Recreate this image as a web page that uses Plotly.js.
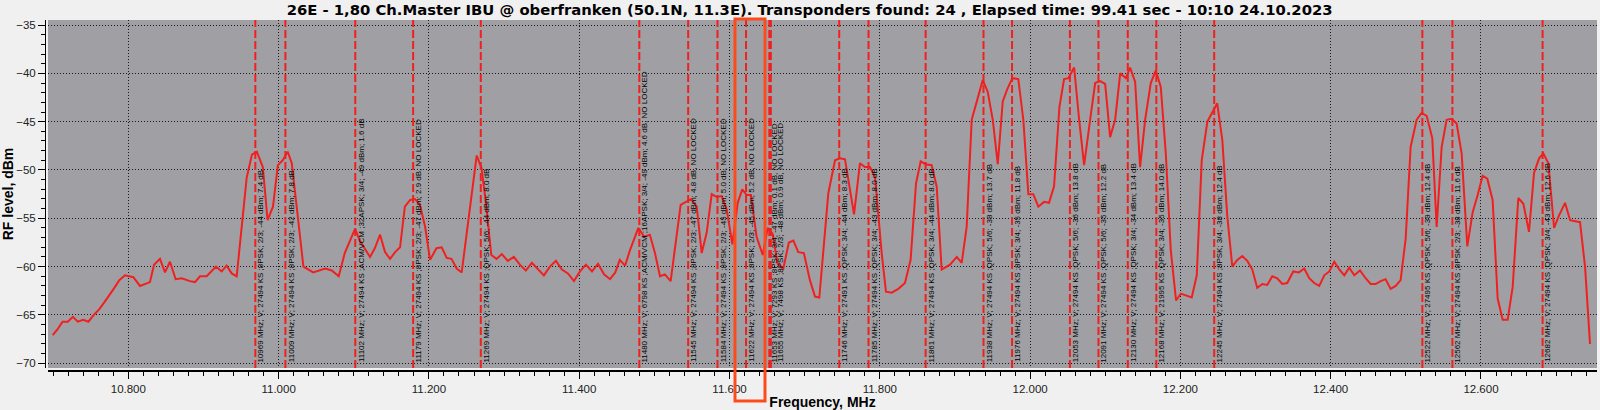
<!DOCTYPE html>
<html>
<head>
<meta charset="utf-8">
<script src="https://cdn.plot.ly/plotly-3.0.1.min.js"></script>
<style>
html,body{margin:0;padding:0;background:#f0f0f0;}
#chart{width:1600px;height:410px;}
</style>
</head>
<body>
<div id="chart"></div>
<script>
// Spectrum scan (MHz, dBm)
const freqMHz = [10699.4,10705.6,10712.5,10719.4,10726.2,10732.8,10740.0,10746.9,10754.0,10761.4,10768.0,10774.7,10781.4,10788.0,10795.6,10806.7,10815.5,10828.8,10834.2,10842.1,10848.8,10855.4,10863.0,10871.0,10882.0,10888.7,10895.4,10904.2,10916.7,10924.2,10930.8,10937.5,10944.2,10957.5,10964.5,10971.0,10979.0,10985.3,10992.5,10999.0,11005.5,11012.0,11017.5,11024.0,11033.0,11046.0,11062.0,11070.7,11080.0,11088.0,11096.0,11101.7,11108.0,11121.6,11128.0,11135.0,11141.6,11148.3,11155.0,11161.6,11168.0,11175.0,11181.5,11188.0,11195.0,11201.5,11210.0,11217.0,11223.7,11230.0,11237.0,11243.6,11263.6,11270.0,11276.0,11283.0,11290.0,11297.0,11305.0,11313.0,11321.0,11329.0,11337.0,11345.0,11353.0,11361.0,11369.0,11377.0,11385.0,11393.0,11401.0,11409.0,11417.0,11425.0,11433.0,11441.0,11448.0,11454.0,11461.0,11467.6,11478.7,11486.3,11494.0,11500.8,11507.5,11514.0,11521.7,11535.0,11543.0,11548.8,11556.4,11563.0,11569.6,11576.3,11583.0,11589.6,11596.3,11603.8,11610.9,11617.0,11622.9,11628.6,11636.0,11644.2,11650.8,11657.4,11664.0,11671.6,11679.0,11685.0,11691.5,11699.0,11707.0,11713.8,11719.5,11731.5,11740.4,11747.0,11753.7,11765.7,11773.6,11780.3,11786.9,11793.6,11802.5,11808.2,11815.8,11824.6,11833.5,11841.0,11848.2,11854.4,11861.0,11869.0,11875.7,11882.3,11893.4,11902.4,11909.0,11915.6,11922.3,11929.0,11937.0,11943.6,11950.3,11957.0,11963.6,11969.8,11976.4,11984.3,11991.0,11997.7,12004.3,12011.0,12018.6,12025.2,12031.9,12039.0,12045.2,12051.0,12058.6,12065.3,12071.9,12079.9,12086.6,12093.2,12099.9,12106.5,12113.2,12119.9,12127.4,12133.1,12139.8,12146.4,12153.1,12160.6,12167.3,12173.9,12180.6,12187.2,12194.2,12200.5,12207.1,12215.1,12221.8,12228.4,12235.9,12242.8,12249.0,12255.8,12262.4,12269.1,12275.7,12282.4,12289.0,12295.7,12302.3,12309.0,12315.6,12322.3,12328.9,12335.6,12342.2,12350.2,12357.8,12364.8,12371.5,12378.1,12384.8,12391.5,12398.1,12404.8,12411.4,12418.1,12424.7,12431.4,12439.0,12446.5,12453.2,12459.8,12466.5,12473.1,12479.8,12486.5,12493.1,12499.8,12506.4,12514.4,12521.0,12527.7,12535.2,12541.0,12547.7,12554.3,12561.0,12567.6,12574.3,12581.8,12588.9,12595.6,12602.2,12608.4,12615.5,12622.2,12628.9,12635.5,12642.2,12649.7,12656.4,12663.9,12670.6,12677.3,12683.0,12689.7,12697.3,12703.9,12711.9,12718.6,12725.2,12731.8,12738.5,12745.1];
const levelDbm = [-67.1,-66.5,-65.7,-65.7,-65.2,-65.7,-65.5,-65.7,-65.0,-64.4,-63.7,-63.0,-62.2,-61.4,-60.9,-61.1,-62.0,-61.6,-59.8,-59.2,-60.6,-59.5,-61.3,-61.2,-61.5,-61.6,-61.0,-61.0,-60.0,-60.5,-59.9,-60.7,-61.0,-50.8,-48.4,-48.1,-49.7,-55.2,-53.8,-49.5,-49.0,-48.1,-49.3,-53.8,-60.0,-60.6,-60.2,-60.4,-61.0,-58.6,-57.1,-56.1,-57.3,-59.0,-58.1,-56.7,-58.5,-59.2,-58.5,-58.0,-53.8,-53.1,-53.0,-53.6,-55.9,-59.3,-58.1,-58.0,-59.1,-59.2,-60.2,-60.6,-48.5,-49.8,-53.5,-58.8,-59.2,-58.7,-59.4,-59.0,-59.8,-60.4,-59.6,-60.2,-60.9,-60.0,-59.4,-60.3,-60.7,-61.5,-60.5,-59.8,-60.5,-59.7,-60.8,-61.3,-60.6,-59.3,-59.9,-58.3,-56.0,-56.9,-56.7,-58.6,-61.0,-60.8,-61.5,-53.6,-53.3,-53.0,-53.8,-58.6,-56.5,-52.5,-52.8,-52.7,-54.1,-57.7,-53.4,-52.0,-52.6,-52.6,-56.9,-58.8,-56.0,-56.6,-59.7,-60.2,-57.5,-57.3,-58.5,-58.6,-61.4,-63.1,-63.2,-52.4,-49.0,-48.8,-48.9,-54.6,-49.3,-49.7,-49.7,-50.7,-58.6,-62.6,-62.7,-62.3,-61.7,-59.3,-51.4,-49.1,-49.4,-49.5,-51.7,-60.3,-59.8,-59.0,-59.6,-55.9,-44.8,-42.9,-40.7,-41.9,-44.8,-49.4,-42.9,-41.6,-40.5,-40.6,-44.8,-52.5,-52.5,-53.8,-53.3,-53.4,-51.7,-43.5,-40.6,-40.5,-39.4,-44.8,-49.5,-44.8,-41.0,-40.8,-41.1,-46.6,-44.8,-40.0,-40.5,-39.4,-40.9,-49.7,-44.8,-41.0,-39.7,-41.4,-48.3,-58.3,-63.5,-62.8,-63.0,-63.2,-60.9,-49.0,-45.0,-44.0,-43.1,-46.9,-54.8,-60.0,-59.3,-58.9,-59.4,-60.3,-62.2,-61.8,-61.9,-61.0,-61.2,-61.8,-61.7,-60.5,-60.6,-60.2,-61.2,-61.7,-62.0,-60.9,-60.5,-59.5,-60.3,-60.9,-60.1,-60.9,-60.4,-61.2,-61.8,-61.8,-61.5,-61.3,-62.3,-62.0,-61.4,-57.1,-47.6,-44.8,-44.1,-44.4,-46.7,-55.9,-47.6,-44.8,-44.7,-45.2,-48.3,-57.9,-54.4,-52.6,-50.6,-50.9,-53.1,-63.3,-65.5,-65.5,-62.1,-52.9,-53.5,-56.4,-50.3,-48.8,-48.3,-49.3,-56.0,-54.7,-53.4,-55.2,-55.3,-55.4,-60.0,-68.0];

// Transponders found
const tpFreq  = [10969,11009,11102,11179,11269,11480,11545,11584,11622,11653,11655,11746,11785,11861,11938,11976,12053,12091,12130,12168,12245,12522,12562,12682];
const tpPol   = ["V","V","V","V","V","V","V","V","V","V","V","V","V","V","V","V","V","V","V","V","V","V","V","V"];
const tpSR    = [27494,27494,27494,27494,27494,6798,27494,27494,27494,7293,7498,27491,27494,27494,27494,27494,27494,27494,27494,21995,27494,27495,27494,27494];
const tpMod   = ["8PSK","8PSK","ACM/VCM ;32APSK","8PSK","QPSK","ACM/VCM ;16APSK","8PSK","8PSK","8PSK","8PSK","8PSK","QPSK","QPSK","QPSK","QPSK","8PSK","QPSK","QPSK","QPSK","QPSK","8PSK","QPSK","8PSK","QPSK"];
const tpFec   = ["2/3","2/3","3/4","2/3","5/6","3/4","2/3","2/3","2/3","3/4","2/3","3/4","3/4","3/4","5/6","3/4","5/6","5/6","3/4","3/4","3/4","5/6","2/3","3/4"];
const tpLevel = [-44,-42,-49,-47,-44,-49,-47,-45,-45,-47,-48,-44,-43,-44,-38,-35,-36,-35,-34,-35,-38,-39,-38,-43];
const tpSnr   = ["7.4","7.8","1.6","2.9","8.0","4.6","4.8","5.0","5.2","0.1","0.9","8.3","8.0","8.0","13.7","11.8","13.8","12.2","13.4","14.0","12.4","12.4","11.6","12.6"];
const tpLocked= [true,true,true,false,true,false,false,false,false,false,false,true,true,true,true,true,true,true,true,true,true,true,true,true];

// Axis ticks
const xTickVals = [10800,11000,11200,11400,11600,11800,12000,12200,12400,12600];
const xTickText = ["10.800","11.000","11.200","11.400","11.600","11.800","12.000","12.200","12.400","12.600"];
const yTickVals = [-70,-65,-60,-55,-50,-45,-40,-35];

const titleText = "26E - 1,80 Ch.Master IBU @ oberfranken (50.1N, 11.3E). Transponders found: 24 , Elapsed time: 99.41 sec - 10:10 24.10.2023";

const RED = "#f02020";
const shapes = tpFreq.map(f => ({
  type: "line", xref: "x", yref: "y domain", x0: f, x1: f, y0: 0, y1: 1,
  line: {color: RED, width: 2, dash: "8px,3px"}, layer: "above"
}));
// highlight box drawn on the reference picture
shapes.push({
  type: "rect", xref: "paper", yref: "paper",
  x0: (735-45)/1552, x1: (765-45)/1552, y0: (371-401)/351, y1: (371-19)/351,
  line: {color: "#ff4a1c", width: 3}, fillcolor: "rgba(0,0,0,0)", layer: "above"
});

const annotations = tpFreq.map((f, i) => ({
  x: f, y: -70, xref: "x", yref: "y",
  text: f + " MHz; " + tpPol[i] + "; " + tpSR[i] + " KS ;" + tpMod[i] + "; " + tpFec[i] + "; " + tpLevel[i] + " dBm; " + tpSnr[i] + " dB" + (tpLocked[i] ? "" : ", NO LOCKED"),
  showarrow: false, textangle: -90, xanchor: "left", yanchor: "bottom",
  xshift: (i === 10 ? 4 : 0), yshift: 0, borderpad: 0,
  font: {family: "Liberation Sans, Arial, sans-serif", size: 8, color: "#000"}
}));

const trace = {
  x: freqMHz, y: levelDbm, type: "scatter", mode: "lines",
  line: {color: RED, width: 2}, hoverinfo: "x+y"
};

const gridCol = "#1a1a1a";
const layout = {
  width: 1600, height: 410,
  paper_bgcolor: "#f0f0f0", plot_bgcolor: "#a0a0a4",
  margin: {l: 45, r: 3, t: 20, b: 39, pad: 0},
  showlegend: false,
  title: {text: titleText, x: 0.506, xanchor: "center", y: 1 - 9.5/410, yanchor: "middle",
          font: {family: "DejaVu Sans, Verdana, sans-serif", size: 14.8, color: "#000", weight: "bold"}},
  xaxis: {
    domain: [3/1552, 1], anchor: "free", position: 0,
    range: [10693.1, 12754.4], tickvals: xTickVals, ticktext: xTickText,
    ticks: "outside", ticklen: 7, tickwidth: 1, tickcolor: "#000",
    showline: true, linecolor: "#000", linewidth: 2,
    showgrid: true, gridcolor: gridCol, griddash: "1px,2px", gridwidth: 1,
    zeroline: false,
    minor: {dtick: 20, tick0: 10700, ticks: "outside", ticklen: 4, tickcolor: "#000", showgrid: false},
    tickfont: {family: "Liberation Sans, Arial, sans-serif", size: 11.5, color: "#222"},
    title: {text: "Frequency, MHz", standoff: 6,
            font: {family: "Liberation Sans, Arial, sans-serif", size: 14, color: "#000", weight: "bold"}}
  },
  yaxis: {
    domain: [3/351, 1], anchor: "free", position: 0,
    range: [-70.49, -34.48], tickvals: yTickVals,
    ticks: "outside", ticklen: 7, tickwidth: 1, tickcolor: "#000",
    showline: true, linecolor: "#000", linewidth: 1,
    showgrid: true, gridcolor: gridCol, griddash: "1px,2px", gridwidth: 1,
    zeroline: false,
    minor: {dtick: 1, tick0: -70, ticks: "outside", ticklen: 4, tickcolor: "#000", showgrid: false},
    tickfont: {family: "Liberation Sans, Arial, sans-serif", size: 11.5, color: "#222"},
    title: {text: "RF level, dBm", standoff: 4,
            font: {family: "Liberation Sans, Arial, sans-serif", size: 14, color: "#000", weight: "bold"}}
  },
  shapes: shapes,
  annotations: annotations
};

Plotly.newPlot("chart", [trace], layout, {displayModeBar: false, staticPlot: true});
</script>
</body>
</html>
